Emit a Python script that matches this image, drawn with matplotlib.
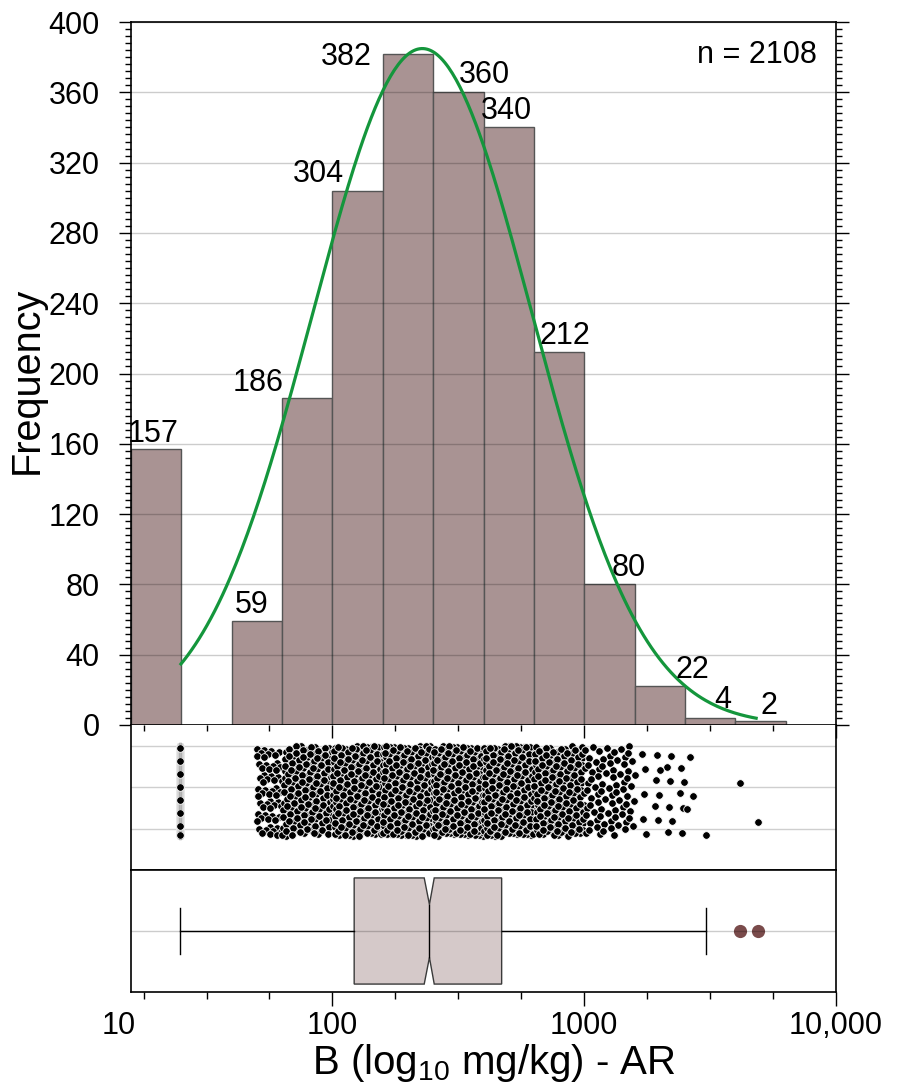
import numpy as np
import matplotlib
matplotlib.use("Agg")
import matplotlib.pyplot as plt
from matplotlib.ticker import FixedLocator, NullFormatter, MultipleLocator, FixedFormatter, NullLocator
from matplotlib.transforms import ScaledTranslation

plt.rcParams['font.family'] = ['Liberation Sans', 'DejaVu Sans']
plt.rcParams['mathtext.fontset'] = 'custom'
plt.rcParams['mathtext.rm'] = 'Liberation Sans'
plt.rcParams['mathtext.it'] = 'Liberation Sans:italic'

# ---- data -------------------------------------------------------------
# histogram bins in log10(mg/kg), 0.2 wide
bin_edges_log = [1.2, 1.4, 1.6, 1.8, 2.0, 2.2, 2.4, 2.6, 2.8, 3.0, 3.2, 3.4, 3.6, 3.8]
counts = [157, 0, 59, 186, 304, 382, 360, 340, 212, 80, 22, 4, 2]
n_total = 2108

# fitted log-normal curve (log10 space)
fit_mu = 2.357
fit_sigma = 0.437

# box-plot summary (mg/kg)
box_q1 = 122.0
box_med = 242.8
box_q3 = 470.0
box_ci = [231.5, 253.7]
whisker_lo = 24.8
whisker_hi = 3034.0
outliers = [4145.0, 4887.0]

# individual values for the strip plot
bdl_value = 24.8                       # values reported below detection
lowest_detected = 50.0                 # smallest value above detection
upper_tail = [2559.0, 2620.0, 2704.0, 3034.0]

x_tick_values = [100, 1000, 10000]
x_tick_labels = ['100', '1000', '10,000']

# ---- styling / layout --------------------------------------------------
BAR_COLOR = '#a99393'
BAR_EDGE = '#555555'
CURVE_COLOR = '#14963c'
BOX_FACE = '#d5c9c9'
FLIER_COLOR = '#7a4b4b'
FS_TICK = 22

# label anchor (log10 x) and vertical offset (px) for each bar count
label_x_log = [1.2875, None, 1.679, 1.705, 1.944, 2.057, 2.602, 2.692, 2.924, 3.176, 3.428, 3.551, 3.734]
label_dy_px = [7, None, 8, 7, 9, -11, 9, 8.5, 8, 8, 8.5, 10, 7]

W, H = 907, 1089
fig = plt.figure(figsize=(W / 100, H / 100), dpi=100)


def rect(x0, y0, x1, y1):
    return [x0 / W, 1 - y1 / H, (x1 - x0) / W, (y1 - y0) / H]


ax_h = fig.add_axes(rect(131, 22, 836, 725))
ax_s = fig.add_axes(rect(131, 725, 836, 870))
ax_b = fig.add_axes(rect(131, 870, 836, 992))

edges = np.array(bin_edges_log)
xmin, xmax = 10 ** edges[0], 10 ** 4.0
quarter = 10 ** (np.arange(5, 17) / 4.0)
minor_ticks = [v for v in quarter if not np.isclose(np.log10(v) % 1, 0) and v < xmax * 1.01]

for ax in (ax_h, ax_s, ax_b):
    ax.set_xscale('log')
    ax.set_xlim(xmin, xmax)
    for sp in ax.spines.values():
        sp.set_linewidth(1.2)
        sp.set_color('black')

# ---- histogram ---------------------------------------------------------
lefts = 10 ** edges[:-1]
widths = 10 ** edges[1:] - 10 ** edges[:-1]
cnt = np.array(counts)
mask = cnt > 0
ax_h.bar(lefts[mask], cnt[mask], width=widths[mask], align='edge',
         color=BAR_COLOR, edgecolor=BAR_EDGE, linewidth=1.0, zorder=1)
ax_h.set_ylim(0, 400)
ax_h.yaxis.set_major_locator(MultipleLocator(40))
ax_h.yaxis.set_minor_locator(MultipleLocator(4))
ax_h.tick_params(axis='y', which='both', left=True, right=True, direction='out',
                 labelsize=FS_TICK, pad=13.5, width=1.0)
ax_h.tick_params(axis='y', which='major', length=9)
ax_h.tick_params(axis='y', which='minor', length=4.3)
ax_h.tick_params(axis='x', which='both', bottom=False, top=False, labelbottom=False)
ax_h.set_axisbelow(False)
ax_h.yaxis.grid(True, color='black', alpha=0.2, linewidth=1.0)

# fitted curve spanning the observed range
lx = np.linspace(np.log10(bdl_value), np.log10(max(outliers)), 300)
bw = edges[1] - edges[0]
amp = n_total * bw / (fit_sigma * np.sqrt(2 * np.pi))
ax_h.plot(10 ** lx, amp * np.exp(-(lx - fit_mu) ** 2 / (2 * fit_sigma ** 2)),
          color=CURVE_COLOR, linewidth=2.3, zorder=4, solid_capstyle='butt')

for c, lxl, dy in zip(counts, label_x_log, label_dy_px):
    if c == 0:
        continue
    ax_h.annotate(str(c), xy=(10 ** lxl, c), xytext=(0, dy * 0.72), textcoords='offset points',
                  ha='center', va='baseline', fontsize=FS_TICK, zorder=5)

ax_h.text((816.7 - 131) / 705, (725 - 63) / 703, f'n = {n_total}', transform=ax_h.transAxes,
          ha='right', va='baseline', fontsize=FS_TICK)

ax_h.set_ylabel('Frequency', fontsize=28.5)
ax_h.yaxis.set_label_coords((27 - 131) / 705, 0.49)
ax_h.yaxis.label.set_va('center')

# ---- strip plot --------------------------------------------------------
# values per bin spread across the bin with an R2 low-discrepancy sequence
g = 1.32471795724
a1, a2 = 1.0 / g, 1.0 / g ** 2
strip_log, strip_row = [], []
start = 0
for i, c in enumerate(counts):
    if c == 0:
        continue
    j = np.arange(start, start + c)
    start += c
    if i == 0:
        vals = np.full(c, np.log10(bdl_value))
    elif i == len(counts) - 2:
        vals = np.log10(upper_tail)
    elif i == len(counts) - 1:
        vals = np.log10(outliers)
    else:
        lo, hi = edges[i], edges[i + 1]
        lo = max(lo, np.log10(lowest_detected))
        vals = lo + ((0.5 + j * a1) % 1.0) * (hi - lo)
    strip_log.append(vals)
    strip_row.append(0.82 + 2.18 * ((0.5 + j * a2) % 1.0))
strip_log = np.concatenate(strip_log)
strip_row = np.concatenate(strip_row)

ax_s.set_ylim(0, 3.5)
ax_s.tick_params(axis='y', which='both', left=False, right=False, labelleft=False)
ax_s.yaxis.set_major_locator(NullLocator())
for yv in (1, 2, 3):
    ax_s.axhline(yv, color='#cfcfcf', linewidth=1.0, zorder=0)
ax_s.scatter(10 ** strip_log, strip_row, s=30, c='black', edgecolors='white', linewidths=0.6, zorder=3)
ax_s.spines['top'].set_visible(False)
ax_s.xaxis.set_ticks_position('top')
ax_s.xaxis.set_major_locator(FixedLocator(x_tick_values))
ax_s.xaxis.set_minor_locator(FixedLocator(minor_ticks))
ax_s.xaxis.set_major_formatter(NullFormatter())
ax_s.xaxis.set_minor_formatter(NullFormatter())
ax_s.tick_params(axis='x', which='both', direction='in', top=True, bottom=False,
                 labeltop=False, labelbottom=False, width=1.0)
ax_s.tick_params(axis='x', which='major', length=9.4)
ax_s.tick_params(axis='x', which='minor', length=4.3)

# ---- notched box plot --------------------------------------------------
stats = [{'med': box_med, 'q1': box_q1, 'q3': box_q3, 'whislo': whisker_lo,
          'whishi': whisker_hi, 'fliers': outliers, 'cilo': box_ci[0], 'cihi': box_ci[1]}]
bxp_kw = dict(positions=[1], widths=1.74, shownotches=True, patch_artist=True,
              boxprops=dict(facecolor=BOX_FACE, edgecolor='#3a3a3a', linewidth=1.0),
              whiskerprops=dict(color='black', linewidth=1.0),
              capprops=dict(color='black', linewidth=1.0), capwidths=0.76,
              medianprops=dict(color='black', linewidth=1.0),
              flierprops=dict(marker='o', markerfacecolor=FLIER_COLOR, markeredgecolor='none',
                              markersize=9.5),
              manage_ticks=False)
try:
    ax_b.bxp(stats, orientation='horizontal', **bxp_kw)
except TypeError:
    ax_b.bxp(stats, vert=False, **bxp_kw)
ax_b.axhline(1, color='black', alpha=0.2, linewidth=1.0, zorder=2.2)
ax_b.set_ylim(0, 2)
ax_b.yaxis.set_major_locator(NullLocator())
ax_b.yaxis.set_minor_locator(NullLocator())
ax_b.xaxis.set_major_locator(FixedLocator(x_tick_values))
ax_b.xaxis.set_major_formatter(FixedFormatter(x_tick_labels))
ax_b.xaxis.set_minor_locator(FixedLocator(minor_ticks))
ax_b.xaxis.set_minor_formatter(NullFormatter())
ax_b.tick_params(axis='x', which='both', direction='out', labelsize=FS_TICK, pad=3.5, width=1.0)
ax_b.tick_params(axis='x', which='major', length=10)
ax_b.tick_params(axis='x', which='minor', length=5)

# lowest decade label sits at the left end of the axis
off = ScaledTranslation(0, -(10 + 3.5) / 72, fig.dpi_scale_trans)
ax_b.text(10 ** (edges[0] - 12 / 251.8), 0, '10', transform=ax_b.get_xaxis_transform() + off,
          ha='center', va='top', fontsize=FS_TICK, clip_on=False)

ax_b.set_xlabel('B (log$_{10}$ mg/kg) - AR', fontsize=29)
ax_b.xaxis.set_label_coords((494 - 131) / 705, -(1042 - 992) / 122)

fig.savefig('out.png', dpi=100)
